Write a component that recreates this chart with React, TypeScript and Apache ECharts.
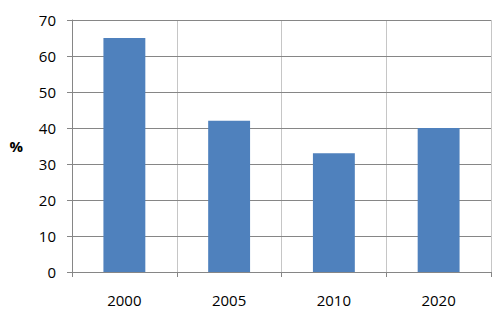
import React, { useEffect, useRef } from "react";
import * as echarts from "echarts";

const categories = ["2000", "2005", "2010", "2020"];
const values = [65, 42, 33, 40];
const yMin = 0;
const yMax = 70;
const yInterval = 10;
const yLabel = "%";

export default function App() {
  const ref = useRef<HTMLDivElement>(null);
  useEffect(() => {
    if (!ref.current) return;
    const chart = echarts.init(ref.current, undefined, { renderer: "svg" });
    const font = "'Open Sans', 'Liberation Sans', sans-serif";
    chart.setOption({
      animation: false,
      backgroundColor: "#ffffff",
      grid: { left: 72, right: 9, top: 20, bottom: 45, containLabel: false },
      xAxis: {
        type: "category",
        data: categories,
        boundaryGap: true,
        axisLine: { show: true, lineStyle: { color: "#868686", width: 1 } },
        axisTick: { show: true, length: 5, lineStyle: { color: "#868686" } },
        axisLabel: { color: "#000", fontSize: 15, fontFamily: font, margin: 20 },
        splitLine: { show: true, lineStyle: { color: "#c6c6c6", width: 1 } },
        z: 1,
      },
      yAxis: {
        type: "value",
        min: yMin,
        max: yMax,
        interval: yInterval,
        name: yLabel,
        nameLocation: "middle",
        nameRotate: 0,
        nameGap: 49,
        nameTextStyle: { color: "#000", fontSize: 15, fontWeight: "bold", fontFamily: font },
        axisLine: { show: true, lineStyle: { color: "#868686", width: 1 } },
        axisTick: { show: true, length: 5, lineStyle: { color: "#868686" } },
        axisLabel: { color: "#000", fontSize: 15, fontFamily: font, margin: 16 },
        splitLine: { show: true, lineStyle: { color: "#868686", width: 1 } },
        z: 2,
      },
      series: [
        {
          type: "bar",
          data: values,
          barWidth: "40%",
          itemStyle: { color: "#4F81BD" },
          z: 3,
        },
      ],
    });
    return () => chart.dispose();
  }, []);
  return (
    <div
      ref={ref}
      style={{ position: "fixed", left: 0, top: 0, width: 500, height: 317 }}
    />
  );
}
